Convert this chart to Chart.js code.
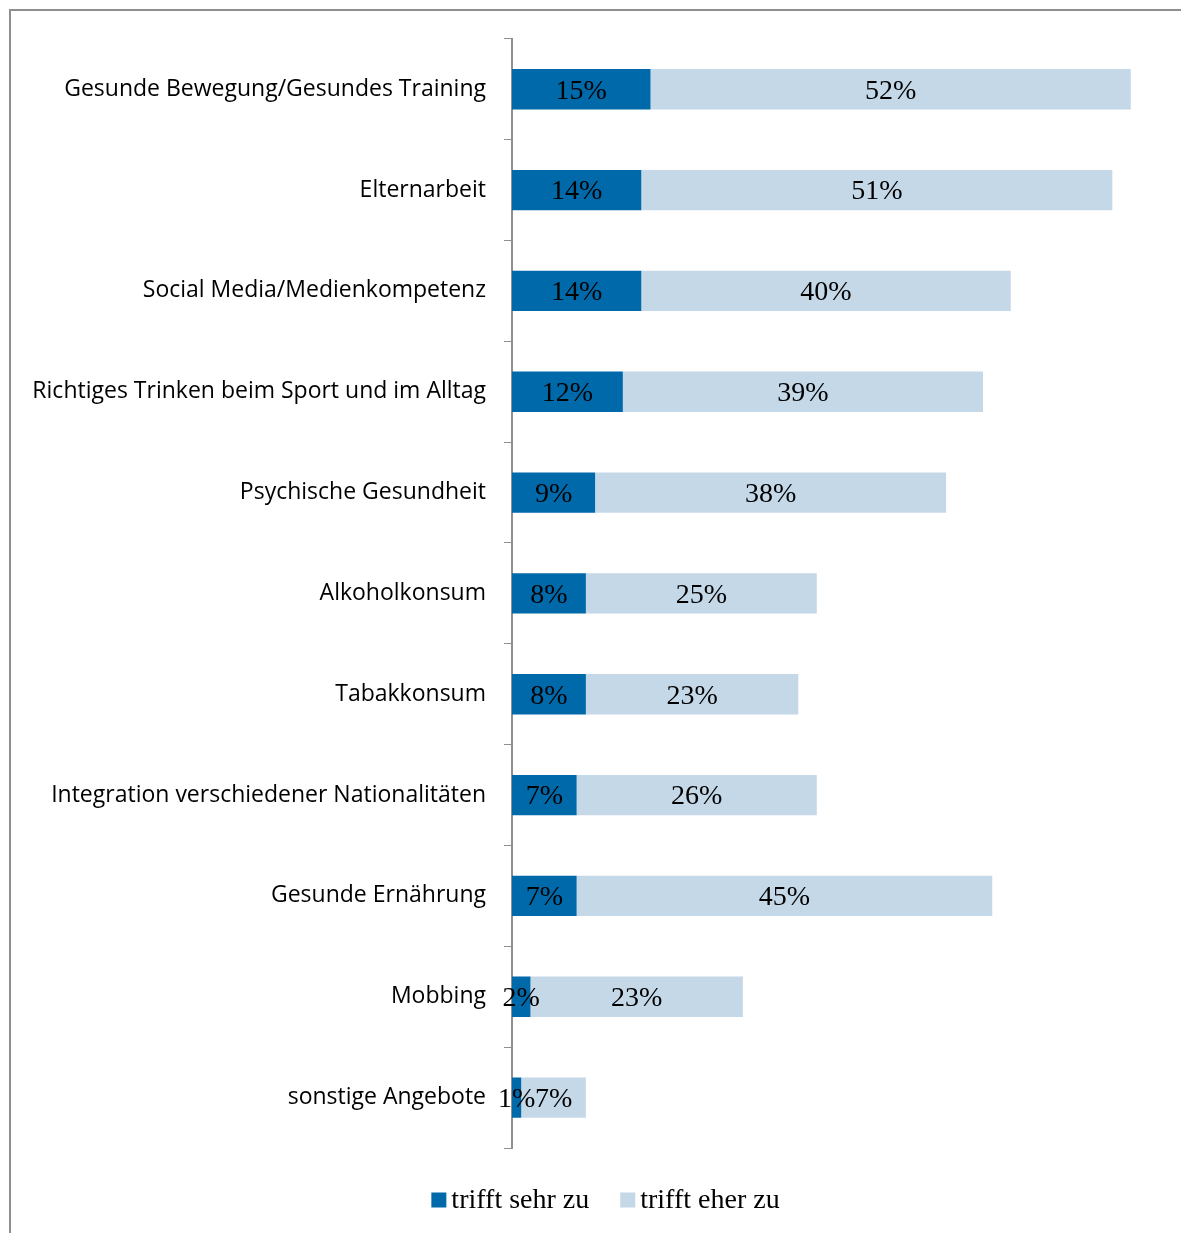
<!DOCTYPE html>
<html><head><meta charset="utf-8">
<script src="https://cdn.jsdelivr.net/npm/chart.js@4"></script>
<style>
html,body{margin:0;padding:0;background:#fff;overflow:hidden;width:1181px;height:1233px}
#frame{position:absolute;left:9px;top:9px;width:1300px;height:1300px;border-top:2px solid #8f8f8f;border-left:2px solid #8f8f8f}
#wrap{position:absolute;left:10px;top:7px;width:1190px;height:1226px}
</style></head><body>
<div id="frame"></div>
<div id="wrap"><canvas id="c"></canvas></div>
<script>
const categories = [
  'Gesunde Bewegung/Gesundes Training',
  'Elternarbeit',
  'Social Media/Medienkompetenz',
  'Richtiges Trinken beim Sport und im Alltag',
  'Psychische Gesundheit',
  'Alkoholkonsum',
  'Tabakkonsum',
  'Integration verschiedener Nationalitäten',
  'Gesunde Ernährung',
  'Mobbing',
  'sonstige Angebote'
];
const sehrZu = [15, 14, 14, 12, 9, 8, 8, 7, 7, 2, 1];
const eherZu = [52, 51, 40, 39, 38, 25, 23, 26, 45, 23, 7];
const seriesNames = ['trifft sehr zu', 'trifft eher zu'];
const seriesColors = ['#0069aa', '#c5d8e8'];

const valueLabels = {
  id: 'valueLabels',
  afterDatasetsDraw(chart) {
    const ctx = chart.ctx;
    ctx.save();
    ctx.font = '28px "Liberation Serif"';
    ctx.fillStyle = '#000';
    ctx.textAlign = 'center';
    ctx.textBaseline = 'middle';
    chart.data.datasets.forEach((ds, i) => {
      chart.getDatasetMeta(i).data.forEach((el, j) => {
        const p = el.getCenterPoint();
        ctx.fillText(ds.data[j] + '%', p.x, p.y + 2);
      });
    });
    ctx.restore();
  }
};

const customLegend = {
  id: 'customLegend',
  afterDraw(chart) {
    const ctx = chart.ctx;
    ctx.save();
    ctx.font = '28px "Liberation Serif"';
    ctx.textBaseline = 'middle';
    ctx.textAlign = 'left';
    const box = 15, gap = 5, spacing = 31;
    const items = chart.data.datasets.map(ds => ({ text: ds.label, color: ds.backgroundColor, w: box + gap + ctx.measureText(ds.label).width }));
    const total = items.reduce((a, it) => a + it.w, 0) + spacing * (items.length - 1);
    let x = 595.5 - total / 2;
    const y = 1193;
    items.forEach(it => {
      ctx.fillStyle = it.color;
      ctx.fillRect(x, y - box / 2, box, box);
      ctx.fillStyle = '#000';
      ctx.fillText(it.text, x + box + gap, y + 1);
      x += it.w + spacing;
    });
    ctx.restore();
  }
};

new Chart(document.getElementById('c'), {
  type: 'bar',
  data: {
    labels: categories,
    datasets: [
      { label: seriesNames[0], data: sehrZu, backgroundColor: seriesColors[0], barPercentage: 0.4, categoryPercentage: 1.0 },
      { label: seriesNames[1], data: eherZu, backgroundColor: seriesColors[1], barPercentage: 0.4, categoryPercentage: 1.0 }
    ]
  },
  options: {
    indexAxis: 'y',
    responsive: true,
    maintainAspectRatio: false,
    animation: false,
    layout: { padding: { top: 0, bottom: 85, left: 0, right: 41.5 } },
    plugins: { legend: { display: false }, tooltip: { enabled: false } },
    scales: {
      x: { stacked: true, display: false, min: 0, max: 70 },
      y: {
        stacked: true,
        afterFit(scale) { scale.width = 502; },
        grid: { display: true, drawOnChartArea: false, drawTicks: true, tickLength: 8, color: '#8f8f8f', lineWidth: 1, offset: true },
        border: { display: true, color: '#8f8f8f', width: 2 },
        ticks: { padding: 18, color: '#000', font: { family: '"Open Sans"', size: 23 } }
      }
    }
  },
  plugins: [valueLabels, customLegend]
});
</script>
</body></html>
